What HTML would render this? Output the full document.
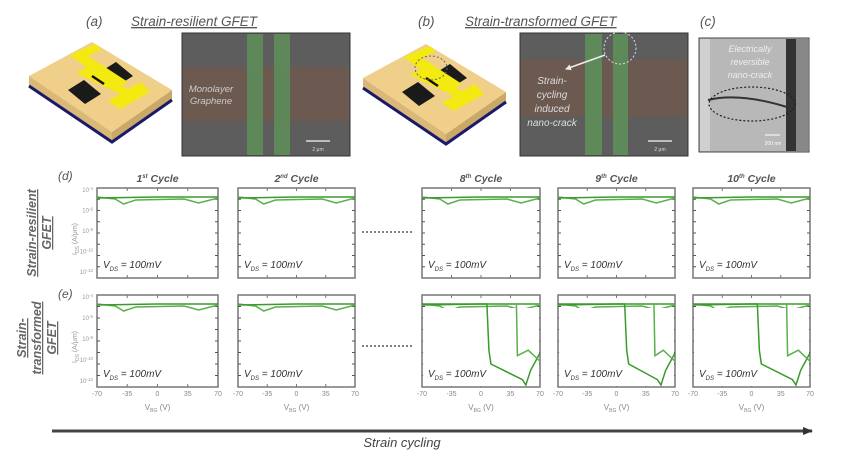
<!DOCTYPE html>
<html><head><meta charset="utf-8"><style>
html,body{margin:0;padding:0;background:#fff}
svg{display:block;font-family:"Liberation Sans",Arial,sans-serif}
</style></head><body>
<svg id="s" width="847" height="464" viewBox="0 0 847 464" xmlns="http://www.w3.org/2000/svg">
<defs>
<marker id="ah" markerUnits="userSpaceOnUse" markerWidth="10" markerHeight="10" refX="9" refY="5" orient="auto"><path d="M0,1 L10,5 L0,9 z" fill="#333"/></marker>
<marker id="wa" markerUnits="userSpaceOnUse" markerWidth="6" markerHeight="6" refX="5" refY="3" orient="auto"><path d="M0,0 L6,3 L0,6 z" fill="#eee"/></marker>
</defs>
<!-- titles -->
<text x="86" y="26" font-size="13.5" font-style="italic" fill="#555">(a)</text>
<text x="131" y="26" font-size="13.5" font-style="italic" fill="#555" text-decoration="underline">Strain-resilient GFET</text>
<text x="418" y="26" font-size="13.5" font-style="italic" fill="#555">(b)</text>
<text x="465" y="26" font-size="13.5" font-style="italic" fill="#555" text-decoration="underline">Strain-transformed GFET</text>
<text x="700" y="26" font-size="13.5" font-style="italic" fill="#555">(c)</text>

<!-- device a -->
<g id="dev">
<polygon points="29,76 29,86 112,142 112,132" fill="#d9b878"/>
<polygon points="112,132 112,142 172,100 172,90" fill="#c9a868"/>
<path d="M29,86 L112,142 L172,100" stroke="#1a1a6a" stroke-width="3" fill="none"/>
<polygon points="29,76 92,42 172,90 112,132" fill="#efcf8a"/>
<polygon points="100,72 116,62 133,76 117,86" fill="#1a1a1a"/>
<polygon points="68,90 84,80 101,94 85,104" fill="#1a1a1a"/>
<polygon points="70,55 95,44 102,49 88,56 128,82 115,89" fill="#f2ea10"/>
<polygon points="76,73 88,67 128,89 141,82 150,92 120,109 108,101 120,94" fill="#f2ea10"/>
<line x1="92" y1="76" x2="104" y2="84" stroke="#111" stroke-width="2.5"/>
</g>
<use href="#dev" x="334" y="2"/>
<ellipse cx="431" cy="68" rx="16" ry="12" fill="none" stroke="#666" stroke-dasharray="2,2"/>

<!-- SEM a -->
<rect x="182" y="33" width="168" height="123" fill="#5d5d5d" stroke="#333"/>
<rect x="183" y="67" width="166" height="54" fill="#6c5a50"/>
<rect x="247" y="34" width="16" height="121" fill="#5e8a5a" opacity="0.95"/>
<rect x="274" y="34" width="16" height="121" fill="#5e8a5a" opacity="0.95"/>
<text x="211" y="92" font-size="9.5" font-style="italic" fill="#ccc" text-anchor="middle">Monolayer</text>
<text x="211" y="104" font-size="9.5" font-style="italic" fill="#ccc" text-anchor="middle">Graphene</text>
<line x1="306" y1="141" x2="330" y2="141" stroke="#ddd" stroke-width="1.5"/>
<text x="318" y="151" font-size="5" fill="#ddd" text-anchor="middle">2 μm</text>

<!-- SEM b -->
<rect x="520" y="33" width="168" height="123" fill="#5d5d5d" stroke="#333"/>
<rect x="521" y="60" width="166" height="56" fill="#6c5a50"/>
<rect x="585" y="34" width="17" height="121" fill="#5e8a5a"/>
<rect x="613" y="34" width="15" height="121" fill="#5e8a5a"/>
<circle cx="620" cy="48" r="16" fill="none" stroke="#ddd" stroke-dasharray="2,2"/>
<line x1="605" y1="55" x2="566" y2="69" stroke="#eee" stroke-width="1.5" marker-end="url(#wa)"/>
<g font-size="10" font-style="italic" fill="#ddd" text-anchor="middle">
<text x="552" y="84">Strain-</text><text x="552" y="98">cycling</text><text x="552" y="112">induced</text><text x="552" y="126">nano-crack</text></g>
<line x1="648" y1="141" x2="672" y2="141" stroke="#ddd" stroke-width="1.5"/>
<text x="660" y="151" font-size="5" fill="#ddd" text-anchor="middle">2 μm</text>

<!-- SEM c -->
<rect x="699" y="38" width="110" height="114" fill="#b8b8b8" stroke="#444"/>
<rect x="700" y="39" width="10" height="112" fill="#d0d0d0"/>
<rect x="786" y="39" width="10" height="112" fill="#333"/>
<rect x="796" y="39" width="12" height="112" fill="#888"/>
<path d="M708,100 Q740,92 790,108" stroke="#333" stroke-width="2" fill="none"/>
<ellipse cx="752" cy="104" rx="43" ry="17" fill="none" stroke="#222" stroke-dasharray="2,2" stroke-width="1.2"/>
<g font-size="9" font-style="italic" fill="#eee" text-anchor="middle">
<text x="750" y="52">Electrically</text><text x="750" y="65">reversible</text><text x="750" y="78">nano-crack</text></g>
<line x1="765" y1="135" x2="780" y2="135" stroke="#fff"/>
<text x="773" y="145" font-size="5" fill="#fff" text-anchor="middle">200 nm</text>

<!-- row labels -->
<text x="58" y="180" font-size="12" font-style="italic" fill="#555">(d)</text>
<text x="58" y="298" font-size="12" font-style="italic" fill="#555">(e)</text>
<g font-size="12.5" font-style="italic" font-weight="bold" fill="#666" text-anchor="middle" text-decoration="underline">
<text transform="translate(36,233) rotate(-90)">Strain-resilient</text>
<text transform="translate(51,233) rotate(-90)">GFET</text>
<text transform="translate(26,338) rotate(-90)">Strain-</text>
<text transform="translate(41,338) rotate(-90)">transformed</text>
<text transform="translate(56,338) rotate(-90)">GFET</text>
</g>
<g id="plots"></g>
<line x1="362" y1="232" x2="412" y2="232" stroke="#555" stroke-dasharray="2,2" stroke-width="1.5"/>
<line x1="362" y1="346" x2="412" y2="346" stroke="#555" stroke-dasharray="2,2" stroke-width="1.5"/>
<line x1="52" y1="431" x2="812" y2="431" stroke="#444" stroke-width="3" marker-end="url(#ah)"/>
<text x="402" y="447" font-size="13" font-style="italic" fill="#444" text-anchor="middle">Strain cycling</text>
</svg>
<script>
var g=document.getElementById('plots'),ns="http://www.w3.org/2000/svg";
function el(t,a,txt){var e=document.createElementNS(ns,t);for(var k in a)e.setAttribute(k,a[k]);if(txt)e.textContent=txt;g.appendChild(e);return e;}
var xs=[[97,218],[238,355],[422,540],[558,675],[693,810]];
var titles=[["1","st"],["2","nd"],["8","th"],["9","th"],["10","th"]];
var rows=[[188,278],[295,387]];
xs.forEach(function(x,i){
 var t=el('text',{x:(x[0]+x[1])/2,y:182,'font-size':10.5,'font-style':'italic','font-weight':'bold',fill:'#555','text-anchor':'middle'});
 t.innerHTML=titles[i][0]+'<tspan font-size="6" dy="-4">'+titles[i][1]+'</tspan><tspan dy="4"> Cycle</tspan>';
 rows.forEach(function(r,ri){
  var x0=x[0],x1=x[1],y0=r[0],y1=r[1],w=x1-x0,h=y1-y0;
  el('rect',{x:x0,y:y0,width:w,height:h,fill:'#fff',stroke:'#777','stroke-width':1.5});
  for(var k=1;k<4;k++){el('line',{x1:x0+w*k/4,y1:y0,x2:x0+w*k/4,y2:y0+3,stroke:'#777'});el('line',{x1:x0+w*k/4,y1:y1,x2:x0+w*k/4,y2:y1-3,stroke:'#777'});}
  for(var k=1;k<8;k++){el('line',{x1:x0,y1:y0+h*k/8,x2:x0+3,y2:y0+h*k/8,stroke:'#555'});el('line',{x1:x1,y1:y0+h*k/8,x2:x1-3,y2:y0+h*k/8,stroke:'#555'});}
  var top=y0+9;
  el('path',{d:'M'+x0+','+top+' L'+(x0+w*0.15)+','+(top+2)+' L'+(x0+w*0.22)+','+(top+7)+' L'+(x0+w*0.32)+','+(top+3)+' L'+(x0+w*0.72)+','+(top+2)+' L'+(x0+w*0.84)+','+(top+6)+' L'+x1+','+(top+1),fill:'none',stroke:'#5ab04c','stroke-width':1.5});
  el('path',{d:'M'+x0+','+(top+1)+' L'+(x0+w*0.5)+','+top+' L'+x1+','+top,fill:'none',stroke:'#3a9a2c','stroke-width':1.5});
  if(ri==1&&i>=2){
   var a=[0.55,0.57,0.55][i-2],b=[0.8,0.82,0.8][i-2];
   el('rect',{x:x0+1,y:y0+13,width:w-2,height:h-14,fill:'#fff'});
   el('path',{d:'M'+x0+','+top+' L'+(x0+w*a)+','+top+' L'+(x0+w*a+2)+','+(y0+h*0.6)+' L'+(x0+w*a+4)+','+(y0+h*0.75)+' L'+(x0+w*0.85)+','+(y0+h*0.92)+' L'+(x0+w*0.88)+','+(y1-2)+' L'+(x0+w*0.92)+','+(y0+h*0.82)+' L'+x1+','+(y0+h*0.63),fill:'none',stroke:'#3a9a2c','stroke-width':1.5});
   el('path',{d:'M'+x1+','+top+' L'+(x0+w*b)+','+top+' L'+(x0+w*b+1)+','+(y0+h*0.66)+' L'+(x0+w*0.9)+','+(y0+h*0.6)+' L'+x1+','+(y0+h*0.72),fill:'none',stroke:'#5ab04c','stroke-width':1.5});
  }
  var v=el('text',{x:x0+6,y:y1-10,'font-size':10,'font-style':'italic',fill:'#333'});
  v.innerHTML='V<tspan font-size="6" dy="3">DS</tspan><tspan dy="-3"> = 100mV</tspan>';
  if(ri==1){
   [-70,-35,0,35,70].forEach(function(n,k){el('text',{x:x0+w*k/4,y:y1+9,'font-size':7,fill:'#888','text-anchor':'middle'},String(n));});
   var vb=el('text',{x:(x0+x1)/2,y:y1+23,'font-size':8,fill:'#888','text-anchor':'middle'});
   vb.innerHTML='V<tspan font-size="5" dy="2">BG</tspan><tspan dy="-2"> (V)</tspan>';
  }
  if(i==0){
   [-4,-6,-8,-10,-12].forEach(function(n,k){var tt=el('text',{x:x0-4,y:y0+4+k*(h-8)/4,'font-size':6,fill:'#999','text-anchor':'end'});tt.innerHTML='10<tspan font-size="4.5" dy="-2">'+n+'</tspan>';});
   var yl=el('text',{transform:'translate('+(x0-20)+','+(y0+h/2+6)+') rotate(-90)','font-size':7,fill:'#999','text-anchor':'middle'});
   yl.innerHTML='I<tspan font-size="5" dy="2">DS</tspan><tspan dy="-2"> (A/μm)</tspan>';
  }
 });
});
</script>
</body></html>
